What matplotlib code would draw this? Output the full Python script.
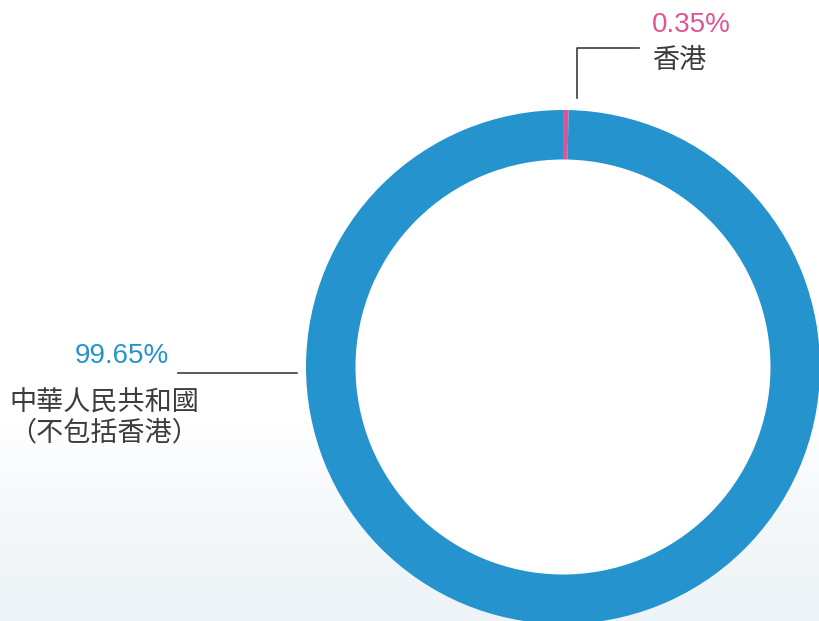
import numpy as np
import matplotlib.pyplot as plt
from matplotlib.colors import LinearSegmentedColormap
from matplotlib.patches import Circle

plt.rcParams['font.family'] = ['Noto Sans CJK TC', 'DejaVu Sans']

labels = ['香港', '中華人民共和國\n（不包括香港）']
shares = [0.35, 99.65]
pct_text = ['0.35%', '99.65%']
colors = ['#DD5497', '#2594CE']
grey = '#3c3c3c'

W, H = 819, 621
fig = plt.figure(figsize=(W / 100, H / 100), dpi=100)

# faint bluish wash at the bottom of the page
bg = fig.add_axes([0, 0, 1, 1], zorder=0)
grad = np.linspace(0, 1, 200).reshape(-1, 1)
grad = np.clip((grad - 0.68) / 0.32, 0, 1) ** 0.8
cmap = LinearSegmentedColormap.from_list('wash', ['#ffffff', '#edf3f7'])
bg.imshow(grad, cmap=cmap, aspect='auto', extent=[0, W, 0, H], origin='upper')
bg.set_xlim(0, W)
bg.set_ylim(0, H)
bg.axis('off')

ax = fig.add_axes([0, 0, 1, 1], zorder=1)
ax.patch.set_alpha(0)
ax.set_xlim(0, W)
ax.set_ylim(0, H)
ax.set_aspect('equal')
ax.axis('off')

cx, cy, r_out, ring = 563, H - 367, 257, 49.5
ax.add_patch(Circle((cx, cy), r_out - ring, color='white', zorder=0))
ax.pie(shares, colors=colors, center=(cx, cy), radius=r_out,
       startangle=90, counterclock=False,
       wedgeprops=dict(width=ring, linewidth=0))
ax.set_xlim(0, W)
ax.set_ylim(0, H)

num_font = ['Liberation Sans', 'DejaVu Sans']

# Hong Kong label
ax.plot([577, 577, 639], [H - 98, H - 48, H - 48], color=grey, lw=1.2)
ax.text(652, H - 25, pct_text[0], color=colors[0], fontsize=20,
        family=num_font, va='center', ha='left')
ax.text(652, H - 61, labels[0], color=grey, fontsize=19.5, va='center',
        ha='left')

# Mainland label
ax.plot([178, 297], [H - 373, H - 373], color=grey, lw=1.2)
ax.text(169, H - 356, pct_text[1], color=colors[1], fontsize=20,
        family=num_font, va='center', ha='right')
ax.text(9, H - 418, labels[1], color=grey, fontsize=19.5, va='center',
        ha='left', linespacing=1.12)

fig.savefig('out.png', dpi=100)
